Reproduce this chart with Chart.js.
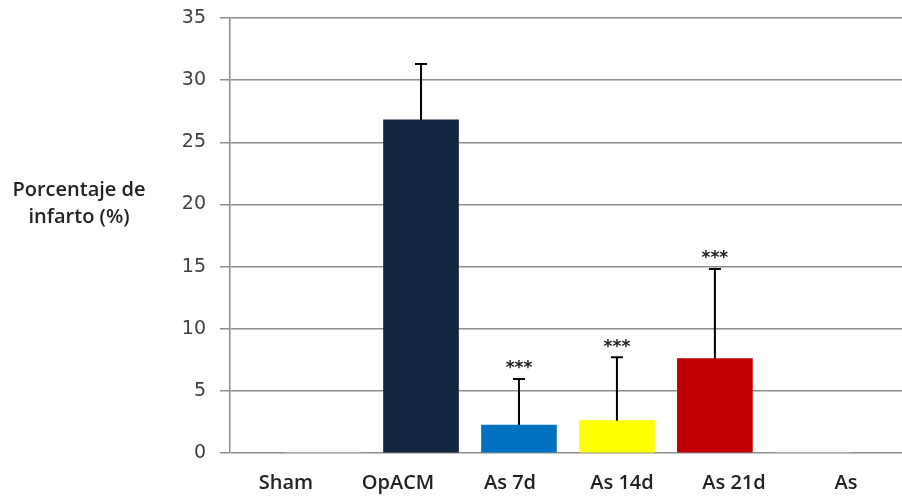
<!DOCTYPE html>
<html>
<head>
<meta charset="utf-8">
<script src="https://cdn.jsdelivr.net/npm/chart.js@4.4.1/dist/chart.umd.min.js"></script>
<style>
  html, body { margin: 0; padding: 0; background: #fff; }
  #wrap { width: 902px; height: 498px; }
</style>
</head>
<body>
<div id="wrap"><canvas id="infarct-chart" width="902" height="498"></canvas></div>
<script>
// Infarct percentage per group
const groups = ['Sham', 'OpACM', 'As 7d', 'As 14d', 'As 21d', 'As'];
const infarctPct = [0, 26.8, 2.25, 2.6, 7.6, 0];
const infarctErr = [0, 4.5, 3.7, 5.1, 7.2, 0];
const significance = ['', '', '***', '***', '***', ''];
const barColors = ['#ffffff', '#10253f', '#0070c0', '#ffff00', '#c00000', '#ffffff'];
const yTicks = [0, 5, 10, 15, 20, 25, 30, 35];

// Upper error bars and significance stars
const errorBars = {
    id: 'errorBars',
    afterDatasetsDraw(chart) {
        const ctx = chart.ctx;
        const xs = chart.scales.x;
        const ys = chart.scales.y;
        ctx.save();
        ctx.strokeStyle = '#000';
        ctx.lineWidth = 2;
        infarctPct.forEach((v, i) => {
            if (!infarctErr[i]) return;
            const x = xs.getPixelForValue(i);
            const y0 = ys.getPixelForValue(v);
            const y1 = ys.getPixelForValue(v + infarctErr[i]);
            ctx.beginPath();
            ctx.moveTo(x, y0);
            ctx.lineTo(x, y1);
            ctx.moveTo(x - 6, y1);
            ctx.lineTo(x + 6, y1);
            ctx.stroke();
            if (significance[i]) {
                ctx.fillStyle = '#222';
                ctx.font = 'bold 17px "DejaVu Sans", sans-serif';
                ctx.textAlign = 'center';
                ctx.textBaseline = 'middle';
                ctx.fillText(significance[i], x, y1 - 10);
            }
        });
        ctx.restore();
    }
};

// Horizontal axis title on the left
const axisTitle = {
    id: 'axisTitle',
    afterDraw(chart) {
        const ctx = chart.ctx;
        ctx.save();
        ctx.fillStyle = '#222';
        ctx.font = '600 20px "Open Sans", sans-serif';
        ctx.textAlign = 'center';
        ctx.textBaseline = 'middle';
        ctx.fillText('Porcentaje de', 79, 190);
        ctx.fillText('infarto (%)', 79, 217);
        ctx.restore();
    }
};

const ctx = document.getElementById('infarct-chart').getContext('2d');
const infarctChart = new Chart(ctx, {
    type: 'bar',
    data: {
        labels: groups,
        datasets: [{
            data: infarctPct.map((v, i) => ({ x: i, y: v })),
            backgroundColor: barColors,
            borderWidth: 0,
            barThickness: 75,
            xAxisID: 'x'
        }]
    },
    options: {
        responsive: false,
        animation: false,
        layout: { padding: { top: 18, left: 0, right: 0, bottom: 0 } },
        plugins: {
            legend: { display: false },
            tooltip: { enabled: false }
        },
        scales: {
            x: {
                type: 'linear',
                display: false,
                offset: false,
                min: -0.95,
                max: 5.91
            },
            groupAxis: {
                type: 'category',
                position: 'bottom',
                labels: groups,
                offset: true,
                grid: { display: false },
                border: { display: false },
                ticks: {
                    color: '#222',
                    font: { family: 'Open Sans', size: 20, weight: '600' },
                    padding: 10
                },
                afterFit(scale) { scale.height = 45; }
            },
            y: {
                min: 0,
                max: 35,
                afterBuildTicks(scale) { scale.ticks = yTicks.map(v => ({ value: v })); },
                afterFit(scale) {
                    scale.width = 230;
                    scale.paddingTop = 0;
                    scale.paddingBottom = 0;
                },
                grid: {
                    color: '#8c8c8c',
                    lineWidth: 1.5,
                    tickLength: 10
                },
                border: { color: '#8c8c8c', width: 1.5 },
                ticks: {
                    color: '#404040',
                    font: { family: 'DejaVu Sans', size: 19 },
                    padding: 14
                }
            }
        }
    },
    plugins: [errorBars, axisTitle]
});
</script>
</body>
</html>
